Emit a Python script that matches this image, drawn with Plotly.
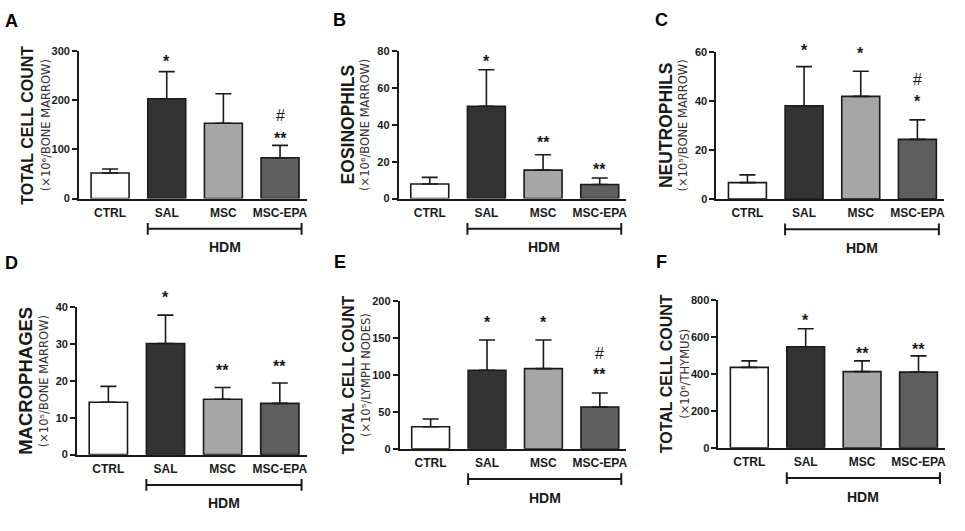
import plotly.graph_objects as go

W, H = 965, 531

categories = ["CTRL", "SAL", "MSC", "MSC-EPA"]
bar_colors = ["#ffffff", "#333333", "#a6a6a6", "#5e5e5e"]

# Panel A: total cell count, bone marrow
a_mean = [52, 203, 153, 83]
a_err = [8, 55, 60, 25]
# Panel B: eosinophils, bone marrow
b_mean = [7.9, 50, 15.4, 7.6]
b_err = [3.6, 19.8, 8.3, 3.5]
# Panel C: neutrophils, bone marrow
c_mean = [6.7, 38.2, 42, 24.4]
c_err = [3.2, 16, 10.3, 8]
# Panel D: macrophages, bone marrow
d_mean = [14.2, 30.1, 15.0, 13.9]
d_err = [4.3, 7.7, 3.2, 5.5]
# Panel E: total cell count, lymph nodes
e_mean = [29.8, 106.4, 108.6, 56.7]
e_err = [10.6, 40.9, 38.7, 18.9]
# Panel F: total cell count, thymus
f_mean = [436, 548, 413, 410]
f_err = [35, 97, 58, 88]

a_ticks = [0, 100, 200, 300]
b_ticks = [0, 20, 40, 60, 80]
c_ticks = [0, 20, 40, 60]
d_ticks = [0, 10, 20, 30, 40]
e_ticks = [0, 50, 100, 150, 200]
f_ticks = [0, 200, 400, 600, 800]

a_sig = [(1, "*"), (3, "**"), (3, "#")]
b_sig = [(1, "*"), (2, "**"), (3, "**")]
c_sig = [(1, "*"), (2, "*"), (3, "*"), (3, "#")]
d_sig = [(1, "*"), (2, "**"), (3, "**")]
e_sig = [(1, "*"), (2, "*"), (3, "**"), (3, "#")]
f_sig = [(1, "*"), (2, "**"), (3, "**")]

panels = [
    dict(letter="A", mean=a_mean, err=a_err, ticks=a_ticks, sig=a_sig,
         title="TOTAL CELL COUNT", sub="(×10⁶/BONE MARROW)", tsize=16,
         box=(79, 307, 46, 197), gaps=[14, 11, 30]),
    dict(letter="B", mean=b_mean, err=b_err, ticks=b_ticks, sig=b_sig,
         title="EOSINOPHILS", sub="(×10⁶/BONE MARROW)", tsize=17.5,
         box=(399, 627, 46, 197), gaps=[12, 16, 13]),
    dict(letter="C", mean=c_mean, err=c_err, ticks=c_ticks, sig=c_sig,
         title="NEUTROPHILS", sub="(×10⁵/BONE MARROW)", tsize=17.5,
         box=(717, 945, 47.5, 197.5), gaps=[20, 22, 22, 40]),
    dict(letter="D", mean=d_mean, err=d_err, ticks=d_ticks, sig=d_sig,
         title="MACROPHAGES", sub="(×10⁵/BONE MARROW)", tsize=18.5,
         box=(77, 307, 308, 459), gaps=[22, 21, 21]),
    dict(letter="E", mean=e_mean, err=e_err, ticks=e_ticks, sig=e_sig,
         title="TOTAL CELL COUNT", sub="(×10⁵/LYMPH NODES)", tsize=16,
         box=(400, 627, 302, 453), gaps=[22, 22, 22, 39]),
    dict(letter="F", mean=f_mean, err=f_err, ticks=f_ticks, sig=f_sig,
         title="TOTAL CELL COUNT", sub="(×10⁶/THYMUS)", tsize=16,
         box=(719, 946, 301, 452), gaps=[12, 11, 10]),
]

FONT = "Liberation Sans, Arial, sans-serif"
INK = "#1a1a1a"

fig = go.Figure()
layout = dict(width=W, height=H, margin=dict(l=0, r=0, t=0, b=0),
              paper_bgcolor="white", plot_bgcolor="white", showlegend=False,
              font=dict(family=FONT, color=INK))
annotations = []
shapes = []

def px(xp):
    return xp / W

def py(yp):
    return 1 - yp / H

for i, p in enumerate(panels):
    n = "" if i == 0 else str(i + 1)
    xa, ya = "x" + n, "y" + n
    x0, x1, yt, yb = p["box"]
    h = yb - yt
    top = p["ticks"][-1]
    fig.add_trace(go.Bar(
        x=list(range(len(categories))), y=p["mean"], xaxis=xa, yaxis=ya,
        width=0.67,
        marker=dict(color=bar_colors, line=dict(color=INK, width=1.6)),
        error_y=dict(type="data", symmetric=False, array=p["err"],
                     arrayminus=[0] * len(p["err"]), color=INK,
                     thickness=1.6, width=8),
        hoverinfo="skip",
    ))
    layout["xaxis" + n] = dict(
        domain=[px(x0), px(x1)], anchor=ya, range=[-0.55, 3.47],
        tickmode="array", tickvals=list(range(len(categories))),
        ticktext=categories, ticks="", showline=True, linecolor=INK,
        linewidth=1.6, showgrid=False, zeroline=False, fixedrange=True,
        tickfont=dict(size=12, weight="bold", color=INK, family=FONT),
        ticklabelstandoff=2,
    )
    layout["yaxis" + n] = dict(
        domain=[py(yb), py(yt)], anchor=xa, range=[0, top],
        tickmode="array", tickvals=p["ticks"], ticks="outside", ticklen=5,
        tickwidth=1.5, tickcolor=INK, showline=True, linecolor=INK,
        linewidth=1.6, showgrid=False, zeroline=False, fixedrange=True,
        tickfont=dict(size=11, weight="bold", color=INK, family=FONT),
    )
    # significance marks
    for (ci, txt), gap in zip(p["sig"], p["gaps"]):
        base = p["mean"][ci] + p["err"][ci]
        if txt == "#":
            annotations.append(dict(
                x=ci, y=base, xref=xa, yref=ya, text=txt, showarrow=False,
                yanchor="middle", yshift=gap,
                font=dict(size=16, color=INK, family=FONT)))
        else:
            annotations.append(dict(
                x=ci, y=base, xref=xa, yref=ya, text=txt, showarrow=False,
                yanchor="middle", yshift=gap - 4,
                font=dict(size=16, color=INK, family=FONT, weight="bold")))
    # HDM bracket
    bl, br = 1 - 0.335, 3 + 0.38
    by = -31 / h
    cap = 6 / h
    yd = ya + " domain"
    shapes.append(dict(type="line", xref=xa, yref=yd, x0=bl, x1=br, y0=by, y1=by,
                       line=dict(color=INK, width=2)))
    for xx in (bl, br):
        shapes.append(dict(type="line", xref=xa, yref=yd, x0=xx, x1=xx,
                           y0=by - cap, y1=by + cap, line=dict(color=INK, width=2)))
    annotations.append(dict(
        x=(bl + br) / 2, y=-50 / h, xref=xa, yref=yd, text="HDM", showarrow=False,
        yanchor="middle", font=dict(size=14, color=INK, family=FONT, weight="bold")))
    # axis titles
    yc = py((yt + yb) / 2)
    annotations.append(dict(
        x=px(x0 - 51), y=yc, xref="paper", yref="paper", text=p["title"],
        textangle=-90, showarrow=False, xanchor="center", yanchor="middle",
        font=dict(size=p["tsize"], color=INK, family=FONT, weight="bold")))
    annotations.append(dict(
        x=px(x0 - 33.5), y=yc, xref="paper", yref="paper", text=p["sub"],
        textangle=-90, showarrow=False, xanchor="center", yanchor="middle",
        font=dict(size=11.5, color="#333333", family="DejaVu Sans, sans-serif")))

letters_pos = [(11.5, 15), (340, 14), (662, 14), (12, 262.5), (340, 262), (662, 262)]
for p, (lx, ly) in zip(panels, letters_pos):
    annotations.append(dict(
        x=px(lx), y=py(ly), xref="paper", yref="paper", text=p["letter"],
        showarrow=False, xanchor="center", yanchor="middle",
        font=dict(size=18, color="black", family=FONT, weight="bold")))

layout["annotations"] = annotations
layout["shapes"] = shapes
fig.update_layout(**layout)
fig.write_html("out.html", config=dict(displayModeBar=False),
               post_script="document.body.style.margin='0';document.body.style.overflow='hidden';")
